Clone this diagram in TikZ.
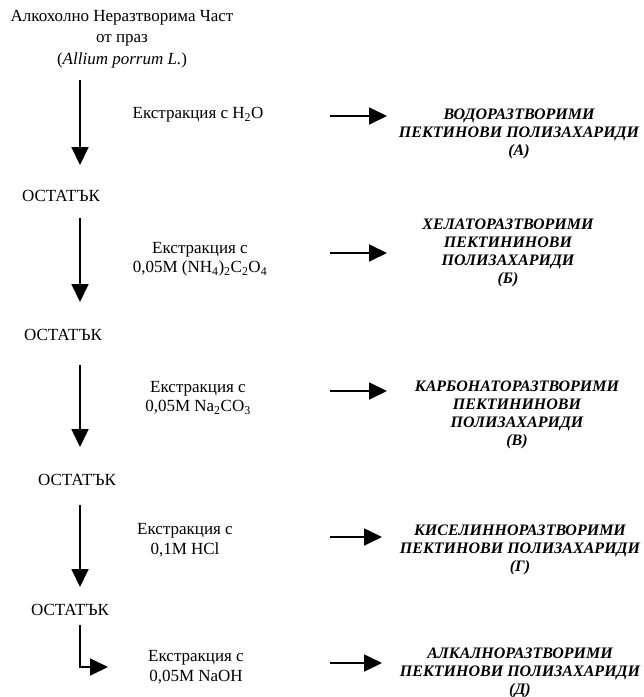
\documentclass[tikz,border=0pt]{standalone}
\usepackage{fontspec}
\setmainfont{Liberation Serif}
\usetikzlibrary{arrows.meta}
\tikzset{
	txt/.style={font=\fontsize{17}{19.5}\selectfont, align=center, inner sep=0pt},
	prod/.style={font=\fontsize{16}{18}\selectfont\bfseries\itshape, align=center, inner sep=0pt},
	flow/.style={line width=1.8pt, -{Triangle[length=18pt,width=17pt]}}
}

\begin{document}
\begin{tikzpicture}[x=1pt, y=-1pt]
			%%%%% START %%%%%
			\useasboundingbox (0, 0) rectangle (644, 697);
			
			\node[txt, font=\fontsize{17}{21.5}\selectfont] (src) at (122, 39) {Алкохолно Неразтворима Част\\от праз\\(\textit{Allium porrum L.})};
			
			\node[txt] (e1) at (198, 115) {Екстракция с H\textsubscript{2}O};
			\node[txt] (e2) at (200, 259) {Екстракция с\\0,05M (NH\textsubscript{4})\textsubscript{2}C\textsubscript{2}O\textsubscript{4}};
			\node[txt] (e3) at (198, 398) {Екстракция с\\0,05M Na\textsubscript{2}CO\textsubscript{3}};
			\node[txt] (e4) at (185, 540) {Екстракция с\\0,1M HCl};
			\node[txt] (e5) at (196, 667) {Екстракция с\\0,05M NaOH};
			
			\node[txt] (r1) at (61, 196) {ОСТАТЪК};
			\node[txt] (r2) at (63, 335) {ОСТАТЪК};
			\node[txt] (r3) at (77, 480) {ОСТАТЪК};
			\node[txt] (r4) at (70, 610) {ОСТАТЪК};
			
			\node[prod] (pA) at (519, 134) {ВОДОРАЗТВОРИМИ\\ПЕКТИНОВИ ПОЛИЗАХАРИДИ\\(А)};
			\node[prod] (pB) at (508, 253) {ХЕЛАТОРАЗТВОРИМИ\\ПЕКТИНИНОВИ\\ПОЛИЗАХАРИДИ\\(Б)};
			\node[prod] (pC) at (517, 415) {КАРБОНАТОРАЗТВОРИМИ\\ПЕКТИНИНОВИ\\ПОЛИЗАХАРИДИ\\(В)};
			\node[prod] (pD) at (520, 550) {КИСЕЛИННОРАЗТВОРИМИ\\ПЕКТИНОВИ ПОЛИЗАХАРИДИ\\(Г)};
			\node[prod] (pE) at (520, 673) {АЛКАЛНОРАЗТВОРИМИ\\ПЕКТИНОВИ ПОЛИЗАХАРИДИ\\(Д)};
			
			% down arrows
			\coordinate (a1) at (80, 80);   \coordinate (b1) at (80, 165);
			\coordinate (a2) at (80, 218);  \coordinate (b2) at (80, 302);
			\coordinate (a3) at (80, 365);  \coordinate (b3) at (80, 447);
			\coordinate (a4) at (80, 505);  \coordinate (b4) at (80, 587);
			\coordinate (a5) at (80, 625);  \coordinate (b5) at (108, 667);
			
			\draw[flow] (a1) -- (b1);
			\draw[flow] (a2) -- (b2);
			\draw[flow] (a3) -- (b3);
			\draw[flow] (a4) -- (b4);
			\draw[flow] (a5) |- (b5);
			
			% side arrows
			\coordinate (c1) at (330, 116);  \coordinate (d1) at (387, 116);
			\coordinate (c2) at (330, 253);  \coordinate (d2) at (387, 253);
			\coordinate (c3) at (330, 391);  \coordinate (d3) at (387, 391);
			\coordinate (c4) at (330, 537);  \coordinate (d4) at (382, 537);
			\coordinate (c5) at (330, 663);  \coordinate (d5) at (382, 663);
			
			\draw[flow] (c1) -- (d1);
			\draw[flow] (c2) -- (d2);
			\draw[flow] (c3) -- (d3);
			\draw[flow] (c4) -- (d4);
			\draw[flow] (c5) -- (d5);
			
			%%%%% END %%%%%
\end{tikzpicture}
\end{document}
